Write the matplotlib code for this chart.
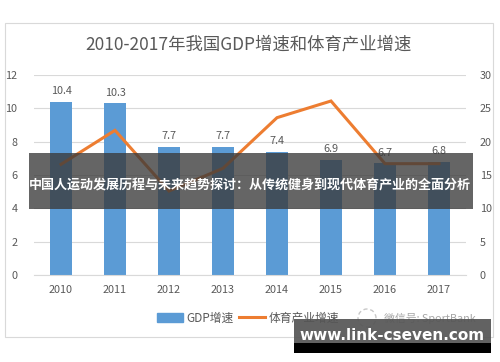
import matplotlib
matplotlib.use("Agg")
import matplotlib.pyplot as plt
from matplotlib.patches import Rectangle, Ellipse
from matplotlib.lines import Line2D

plt.rcParams['font.family'] = ['Noto Sans CJK SC', 'DejaVu Sans']

years = ['2010', '2011', '2012', '2013', '2014', '2015', '2016', '2017']
gdp_growth = [10.4, 10.3, 7.7, 7.7, 7.4, 6.9, 6.7, 6.8]
sport_growth = [16.6, 21.7, 12.6, 16.0, 23.6, 26.1, 16.7, 16.7]

title = '2010-2017年我国GDP增速和体育产业增速'
overlay_text = '中国人运动发展历程与未来趋势探讨：从传统健身到现代体育产业的全面分析'
site_text = 'www.link-cseven.com'
watermark = '微信号: SportBank'

W, H = 500, 362
fig = plt.figure(figsize=(W / 100, H / 100), dpi=100)
fig.patch.set_facecolor('white')

def fx(px):
    return px / W

def fy(py):
    return 1 - py / H

# chart frame
fig.add_artist(Rectangle((fx(5), fy(337)), fx(488), (337 - 23) / H, transform=fig.transFigure,
                         fill=False, edgecolor='#d9d9d9', lw=0.8))

ax = fig.add_axes([fx(34), fy(275), 432 / W, 200 / H])
ax2 = ax.twinx()
ax.set_zorder(ax2.get_zorder() - 1)
ax.patch.set_visible(False)

x = list(range(len(years)))
bar_color = '#5b9bd5'
line_color = '#ed7d31'
txt_color = '#595959'

bars = ax.bar(x, gdp_growth, width=0.39, color=bar_color, zorder=2)
for xi, v in zip(x, gdp_growth):
    ax.text(xi, v + 0.35, f'{v}', ha='center', va='bottom', fontsize=7.8, color=txt_color)

ax.set_xlim(-0.5, len(years) - 0.5)
ax.set_ylim(0, 12)
ax.set_yticks(range(0, 13, 2))
ax.grid(axis='y', color='#d9d9d9', lw=0.8, zorder=0)
ax.set_axisbelow(True)
ax.set_xticks(x)
ax.set_xticklabels(years)

ax2.plot(x, sport_growth, color=line_color, lw=2.2, solid_joinstyle='miter', zorder=3)
ax2.set_ylim(0, 30)
ax2.set_yticks(range(0, 31, 5))

for a in (ax, ax2):
    for s in a.spines.values():
        s.set_visible(False)
    a.tick_params(length=0, labelsize=7.8, labelcolor=txt_color)
ax.tick_params(axis='x', pad=7)
ax.tick_params(axis='y', pad=12)
ax2.tick_params(axis='y', pad=10)
ax.spines['bottom'].set_visible(True)
ax.spines['bottom'].set_color('#d9d9d9')

fig.text(fx(249), fy(45), title, ha='center', va='center', fontsize=12.5, color=txt_color)

# legend
handles = [Rectangle((0, 0), 1, 1, color=bar_color), Line2D([0], [0], color=line_color, lw=2.2)]
fig.legend(handles, ['GDP增速', '体育产业增速'], loc='center', bbox_to_anchor=(fx(248), fy(318)),
           ncol=2, frameon=False, fontsize=8.5, labelcolor=txt_color, handlelength=2.2,
           handletextpad=0.3, columnspacing=0.5)
fig.add_artist(Ellipse((fx(367), fy(318)), 18 / W, 18 / H, transform=fig.transFigure,
                       fill=False, edgecolor='#c8c8c8', lw=1.0, ls=(0, (3, 2))))
fig.text(fx(384), fy(318), watermark, ha='left', va='center', fontsize=7.8, color='#a6a6a6')

# overlay banner
fig.add_artist(Rectangle((fx(29), fy(209)), (473 - 29) / W, (209 - 153) / H, transform=fig.transFigure,
                         facecolor='#3a3a3a', alpha=0.78, edgecolor='none', zorder=10))
fig.text(fx(250), fy(185), overlay_text, ha='center', va='center', fontsize=9.4, fontweight='bold',
         color='white', zorder=11)

# bottom site banner
fig.add_artist(Rectangle((fx(294), fy(353)), (491 - 294) / W, (353 - 343) / H, transform=fig.transFigure,
                         facecolor='black', edgecolor='none', zorder=10))
fig.add_artist(Rectangle((fx(294), fy(343)), (491 - 294) / W, (343 - 319) / H, transform=fig.transFigure,
                         facecolor='#555555', alpha=0.92, edgecolor='none', zorder=10))
fig.text(fx(392), fy(336), site_text, ha='center', va='center', fontsize=11, fontweight='bold',
         color='white', family='DejaVu Sans', zorder=11)

fig.savefig('out.png', dpi=100)
